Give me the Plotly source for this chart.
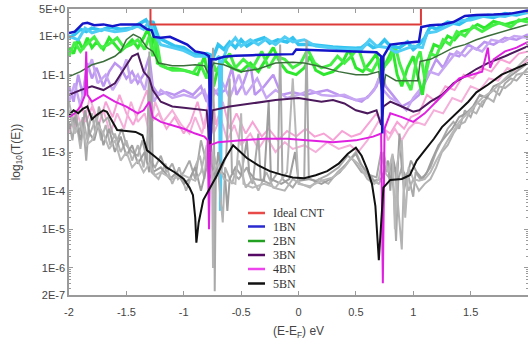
import plotly.graph_objects as go

# ---------------- data (energy E-EF in eV, transmission T(E)) ----------------
x_ideal = [-2.0, -1.29, -1.29, 1.067, 1.067, 2.0]
t_ideal = [6.0, 6.0, 2.0, 2.0, 6.0, 6.0]

x_1bn = [-2.0, -1.95, -1.88, -1.84, -1.78, -1.70, -1.62, -1.55, -1.45, -1.38, -1.32, -1.28, -1.26, -1.2, -1.12,
         -1.05, -0.97, -0.9, -0.82, -0.78, -0.77, -0.76, -0.72, -0.65, -0.55, -0.4, -0.2, -0.05, -0.02, 0.1, 0.3,
         0.5, 0.68, 0.72, 0.73, 0.74, 0.8, 0.9, 1.0, 1.05, 1.07, 1.15, 1.25, 1.35, 1.45, 1.55, 1.7, 1.85, 2.0]
t_1bn = [1.2, 1.3, 2.1, 2.2, 1.9, 2.0, 1.8, 2.0, 2.0, 2.0, 1.5, 1.4, 0.95, 0.9, 0.95,
         0.75, 0.6, 0.4, 0.36, 0.3, 0.002, 0.25, 0.25, 0.29, 0.31, 0.32, 0.33, 0.34, 0.45, 0.44, 0.42,
         0.41, 0.38, 0.3, 0.003, 0.3, 0.6, 0.65, 0.7, 0.72, 1.7, 1.9, 2.0, 2.3, 3.3, 3.5, 3.6, 3.8, 4.6]

x_1bn_a = [-2.0, -1.95, -1.9, -1.85, -1.8, -1.72, -1.65, -1.55, -1.45, -1.38, -1.33, -1.3, -1.27, -1.22, -1.15,
           -1.08, -1.0, -0.92, -0.85, -0.8, -0.74, -0.7, -0.65, -0.6, -0.55, -0.5, -0.45, -0.38, -0.3, -0.25,
           -0.18, -0.1, -0.05, 0.0, 0.1, 0.2, 0.3, 0.4, 0.5, 0.55, 0.6, 0.65, 0.7, 0.75, 0.8, 0.88, 0.95, 1.0,
           1.05, 1.1, 1.15, 1.2, 1.3, 1.4, 1.5, 1.6, 1.7, 1.8, 1.9, 2.0]
t_1bn_a = [0.9, 1.1, 1.5, 1.3, 1.6, 1.4, 1.7, 1.5, 1.6, 2.2, 2.6, 1.8, 2.4, 0.9, 0.7,
           0.55, 0.5, 0.35, 0.32, 0.35, 0.3, 0.6, 0.45, 0.7, 0.5, 0.8, 0.55, 0.75, 0.9, 0.65,
           0.8, 0.7, 0.9, 0.6, 0.6, 0.55, 0.52, 0.5, 0.48, 0.5, 0.65, 0.5, 0.55, 0.8, 0.55, 0.5, 0.7, 0.45,
           0.6, 0.9, 1.8, 1.5, 2.3, 2.0, 3.0, 3.3, 3.0, 3.8, 3.5, 4.2]

x_1bn_b = [-2.0, -1.92, -1.86, -1.8, -1.7, -1.6, -1.5, -1.4, -1.35, -1.3, -1.26, -1.2, -1.1, -1.0, -0.9,
           -0.8, -0.72, -0.69, -0.68, -0.67, -0.62, -0.55, -0.5, -0.42, -0.35, -0.28, -0.2, -0.12, -0.05, 0.05,
           0.15, 0.25, 0.35, 0.45, 0.55, 0.62, 0.68, 0.78, 0.85, 0.92, 1.0, 1.08, 1.12, 1.2, 1.3, 1.4, 1.5,
           1.65, 1.8, 1.9, 2.0]
t_1bn_b = [1.0, 0.8, 1.6, 1.2, 1.5, 1.3, 1.4, 1.8, 1.5, 2.4, 1.2, 0.6, 0.5, 0.42, 0.3,
           0.3, 0.25, 0.3, 3e-5, 0.2, 0.5, 0.9, 0.55, 0.8, 0.6, 0.85, 0.6, 0.95, 0.7, 0.8,
           0.55, 0.5, 0.47, 0.46, 0.45, 0.8, 0.55, 0.5, 0.38, 0.45, 0.55, 0.5, 1.2, 1.3, 1.8, 2.5, 2.6,
           3.5, 3.2, 3.9, 4.0]

x_2bn = [-2.0, -1.9, -1.8, -1.7, -1.6, -1.55, -1.5, -1.44, -1.38, -1.32, -1.27, -1.22, -1.1, -1.0, -0.9,
         -0.82, -0.78, -0.74, -0.65, -0.5, -0.35, -0.2, -0.05, 0.05, 0.2, 0.35, 0.5, 0.6, 0.7, 0.73, 0.76,
         0.85, 0.95, 1.04, 1.06, 1.15, 1.25, 1.35, 1.45, 1.55, 1.65, 1.75, 1.85, 2.0]
t_2bn = [0.09, 0.12, 0.18, 0.22, 0.3, 0.4, 0.8, 1.1, 0.9, 0.5, 0.4, 0.2, 0.17, 0.17, 0.18,
         0.17, 0.1, 0.2, 0.18, 0.12, 0.14, 0.2, 0.21, 0.2, 0.16, 0.12, 0.1, 0.1, 0.12, 0.03, 0.1,
         0.07, 0.07, 0.07, 0.22, 0.25, 0.35, 0.5, 0.6, 0.8, 1.0, 1.2, 1.5, 2.0]

x_2bn_a = [-2.0, -1.96, -1.92, -1.88, -1.84, -1.8, -1.76, -1.7, -1.65, -1.6, -1.55, -1.5, -1.45, -1.4, -1.35,
           -1.31, -1.28, -1.26, -1.23, -1.15, -1.05, -0.95, -0.88, -0.82, -0.79, -0.74, -0.7, -0.65, -0.58,
           -0.5, -0.42, -0.35, -0.28, -0.22, -0.16, -0.1, -0.02, 0.05, 0.1, 0.15, 0.22, 0.3, 0.38, 0.44, 0.5,
           0.56, 0.62, 0.68, 0.72, 0.76, 0.82, 0.86, 0.9, 0.95, 1.0, 1.04, 1.08, 1.12, 1.18, 1.24, 1.3, 1.36,
           1.42, 1.5, 1.56, 1.62, 1.7, 1.8, 1.9, 2.0]
t_2bn_a = [0.5, 0.35, 0.8, 0.45, 0.9, 0.5, 0.7, 0.45, 0.9, 0.6, 0.4, 0.55, 0.8, 0.5, 0.9,
           1.6, 0.5, 1.4, 0.2, 0.15, 0.14, 0.12, 0.1, 0.3, 0.1, 0.05, 0.15, 0.25, 0.15,
           0.12, 0.2, 0.12, 0.25, 0.5, 0.2, 0.12, 0.1, 0.15, 0.3, 0.13, 0.1, 0.12, 0.2, 0.45, 0.15,
           0.12, 0.2, 0.35, 0.1, 0.2, 0.45, 0.1, 0.05, 0.15, 0.3, 0.1, 0.03, 0.2, 0.6, 0.5, 1.0, 0.8,
           1.3, 1.5, 2.0, 1.6, 2.4, 2.0, 2.4, 2.8]

x_2bn_b = [-2.0, -1.95, -1.9, -1.85, -1.78, -1.72, -1.66, -1.58, -1.52, -1.46, -1.4, -1.34, -1.3, -1.27, -1.24,
           -1.2, -1.1, -1.0, -0.92, -0.86, -0.8, -0.76, -0.72, -0.66, -0.6, -0.55, -0.48, -0.4, -0.32, -0.26,
           -0.2, -0.12, -0.05, 0.02, 0.08, 0.14, 0.2, 0.28, 0.34, 0.4, 0.46, 0.52, 0.58, 0.64, 0.7, 0.74, 0.8,
           0.84, 0.88, 0.93, 0.98, 1.03, 1.06, 1.1, 1.15, 1.2, 1.26, 1.32, 1.38, 1.45, 1.52, 1.6, 1.68, 1.75,
           1.85, 1.92, 2.0]
t_2bn_b = [0.3, 0.7, 0.4, 0.6, 0.95, 0.5, 0.6, 0.9, 0.5, 0.6, 0.8, 0.45, 1.0, 0.3, 0.9,
           0.17, 0.13, 0.13, 0.11, 0.2, 0.08, 0.3, 0.12, 0.2, 0.35, 0.15, 0.25, 0.15, 0.4, 0.15,
           0.3, 0.25, 0.15, 0.2, 0.45, 0.2, 0.15, 0.18, 0.3, 0.2, 0.3, 0.5, 0.15, 0.12, 0.25, 0.15, 0.25,
           0.6, 0.2, 0.08, 0.04, 0.25, 0.4, 0.08, 0.35, 0.3, 0.8, 0.6, 1.3, 1.0, 1.8, 1.3, 1.8, 2.2,
           1.7, 2.6, 2.3]

x_3bn = [-2.0, -1.9, -1.8, -1.7, -1.6, -1.55, -1.45, -1.4, -1.35, -1.3, -1.27, -1.2, -1.1, -1.0, -0.9,
         -0.8, -0.77, -0.75, -0.6, -0.4, -0.2, 0.0, 0.1, 0.2, 0.3, 0.4, 0.5, 0.6, 0.68, 0.72, 0.74, 0.8,
         0.9, 1.0, 1.05, 1.15, 1.25, 1.35, 1.45, 1.55, 1.65, 1.8, 2.0]
t_3bn = [0.03, 0.04, 0.05, 0.04, 0.06, 0.1, 0.3, 0.35, 0.12, 0.08, 0.04, 0.02, 0.015, 0.014, 0.013,
         0.012, 0.001, 0.012, 0.015, 0.018, 0.022, 0.025, 0.022, 0.02, 0.022, 0.018, 0.012, 0.01, 0.012, 0.005,
         0.015, 0.02, 0.015, 0.011, 0.012, 0.02, 0.03, 0.06, 0.09, 0.14, 0.2, 0.3, 0.55]

x_3bn_a = [-2.0, -1.96, -1.92, -1.88, -1.84, -1.8, -1.76, -1.7, -1.65, -1.6, -1.55, -1.5, -1.45, -1.4, -1.35,
           -1.3, -1.27, -1.22, -1.15, -1.08, -1.0, -0.92, -0.85, -0.8, -0.76, -0.7, -0.64, -0.58, -0.54, -0.48,
           -0.42, -0.38, -0.3, -0.22, -0.15, -0.05, 0.05, 0.15, 0.25, 0.35, 0.45, 0.55, 0.62, 0.68, 0.72, 0.76,
           0.82, 0.9, 0.98, 1.05, 1.12, 1.2, 1.26, 1.32, 1.4, 1.48, 1.55, 1.62, 1.7, 1.8, 1.9, 2.0]
t_3bn_a = [0.05, 0.02, 0.1, 0.03, 0.2, 0.08, 0.15, 0.05, 0.12, 0.2, 0.15, 0.08, 0.12, 0.06, 0.1,
           0.3, 0.05, 0.03, 0.035, 0.03, 0.04, 0.03, 0.05, 0.02, 0.05, 0.03, 0.04, 0.15, 0.03, 0.06,
           0.2, 0.03, 0.05, 0.1, 0.03, 0.035, 0.03, 0.035, 0.04, 0.03, 0.025, 0.02, 0.03, 0.05, 0.12, 0.05,
           0.03, 0.015, 0.02, 0.03, 0.08, 0.25, 0.15, 0.35, 0.3, 0.6, 0.45, 0.7, 0.6, 0.9, 0.8, 1.1]

x_3bn_b = [-2.0, -1.95, -1.9, -1.85, -1.8, -1.75, -1.68, -1.62, -1.56, -1.5, -1.46, -1.4, -1.34, -1.3, -1.26,
           -1.2, -1.1, -1.0, -0.9, -0.82, -0.78, -0.74, -0.66, -0.6, -0.52, -0.46, -0.36, -0.28, -0.2, -0.1,
           0.0, 0.1, 0.2, 0.3, 0.4, 0.5, 0.6, 0.66, 0.7, 0.74, 0.8, 0.86, 0.94, 1.0, 1.08, 1.14, 1.22, 1.3,
           1.38, 1.45, 1.52, 1.6, 1.68, 1.78, 1.88, 2.0]
t_3bn_b = [0.02, 0.06, 0.015, 0.1, 0.25, 0.06, 0.1, 0.04, 0.08, 0.25, 0.06, 0.1, 0.04, 0.15, 0.02,
           0.04, 0.025, 0.03, 0.025, 0.04, 0.015, 0.03, 0.06, 0.025, 0.1, 0.03, 0.08, 0.025, 0.04, 0.025,
           0.03, 0.04, 0.03, 0.028, 0.03, 0.022, 0.025, 0.04, 0.08, 0.04, 0.025, 0.02, 0.012, 0.025, 0.05, 0.12,
           0.1, 0.2, 0.4, 0.3, 0.5, 0.4, 0.8, 0.7, 1.0, 0.9]

x_4bn = [-2.0, -1.95, -1.9, -1.86, -1.85, -1.84, -1.8, -1.7, -1.6, -1.5, -1.4, -1.35, -1.3, -1.27, -1.2,
         -1.1, -1.0, -0.9, -0.82, -0.79, -0.78, -0.77, -0.7, -0.5, -0.3, -0.1, 0.1, 0.3, 0.5, 0.65, 0.72,
         0.735, 0.75, 0.8, 0.9, 1.0, 1.1, 1.2, 1.3, 1.4, 1.6, 1.65, 1.67, 1.7, 1.8, 1.9, 2.0]
t_4bn = [0.008, 0.01, 0.015, 0.03, 0.4, 0.03, 0.02, 0.03, 0.02, 0.015, 0.01, 0.012, 0.02, 0.008, 0.006,
         0.005, 0.004, 0.003, 0.0025, 0.002, 1e-5, 0.0015, 0.0018, 0.002, 0.0022, 0.0022, 0.002, 0.0018, 0.002,
         0.0025, 0.003, 4e-7, 0.004, 0.01, 0.008, 0.006, 0.01, 0.02, 0.04, 0.08, 0.12, 0.5, 0.15, 0.25, 0.4,
         0.5, 0.7]

x_4bn_a = [-2.0, -1.95, -1.9, -1.85, -1.8, -1.74, -1.68, -1.62, -1.56, -1.5, -1.44, -1.38, -1.32, -1.28, -1.22,
           -1.15, -1.08, -1.0, -0.94, -0.88, -0.82, -0.76, -0.72, -0.66, -0.6, -0.54, -0.46, -0.4, -0.32,
           -0.26, -0.18, -0.1, -0.02, 0.06, 0.14, 0.22, 0.3, 0.38, 0.46, 0.54, 0.62, 0.68, 0.74, 0.8, 0.86,
           0.92, 0.98, 1.05, 1.12, 1.2, 1.28, 1.36, 1.44, 1.52, 1.6, 1.68, 1.76, 1.84, 1.92, 2.0]
t_4bn_a = [0.01, 0.004, 0.02, 0.006, 0.015, 0.005, 0.02, 0.008, 0.03, 0.01, 0.005, 0.015, 0.04, 0.006, 0.01,
           0.004, 0.008, 0.003, 0.006, 0.02, 0.004, 0.06, 0.005, 0.02, 0.004, 0.01, 0.003, 0.006, 0.0025,
           0.004, 0.002, 0.0035, 0.0025, 0.004, 0.0025, 0.003, 0.002, 0.0035, 0.0025, 0.003, 0.006, 0.01,
           0.004, 0.003, 0.006, 0.004, 0.008, 0.01, 0.03, 0.02, 0.05, 0.04, 0.1, 0.08, 0.15, 0.12, 0.25,
           0.2, 0.35, 0.4]

x_4bn_b = [-2.0, -1.94, -1.88, -1.82, -1.76, -1.7, -1.64, -1.58, -1.52, -1.46, -1.4, -1.34, -1.3, -1.25, -1.18,
           -1.1, -1.02, -0.95, -0.9, -0.84, -0.8, -0.74, -0.68, -0.62, -0.56, -0.5, -0.42, -0.35, -0.28, -0.2,
           -0.12, -0.05, 0.05, 0.15, 0.25, 0.35, 0.45, 0.52, 0.6, 0.66, 0.72, 0.78, 0.84, 0.9, 0.96, 1.02, 1.1,
           1.18, 1.26, 1.34, 1.42, 1.5, 1.58, 1.66, 1.74, 1.82, 1.9, 2.0]
t_4bn_b = [0.003, 0.012, 0.004, 0.025, 0.008, 0.012, 0.003, 0.01, 0.004, 0.02, 0.006, 0.01, 0.003, 0.02, 0.006,
           0.012, 0.005, 0.003, 0.008, 0.003, 0.01, 0.003, 0.008, 0.002, 0.005, 0.0015, 0.003, 0.0012, 0.0025,
           0.001, 0.0018, 0.0012, 0.0015, 0.001, 0.0018, 0.0012, 0.0015, 0.001, 0.002, 0.004, 0.008, 0.002,
           0.004, 0.002, 0.004, 0.006, 0.005, 0.012, 0.01, 0.025, 0.02, 0.05, 0.04, 0.08, 0.07, 0.15, 0.12, 0.25]

x_5bn = [-2.0, -1.96, -1.92, -1.88, -1.84, -1.8, -1.76, -1.7, -1.67, -1.62, -1.58, -1.5, -1.42, -1.36, -1.32,
         -1.26, -1.21, -1.15, -1.08, -1.0, -0.95, -0.92, -0.9, -0.89, -0.87, -0.83, -0.77, -0.71, -0.65, -0.6,
         -0.57, -0.52, -0.45, -0.35, -0.25, -0.15, -0.05, 0.05, 0.15, 0.25, 0.35, 0.43, 0.5, 0.55, 0.6, 0.64,
         0.67, 0.7, 0.72, 0.74, 0.8, 0.9, 0.97, 1.03, 1.1, 1.18, 1.25, 1.32, 1.4, 1.48, 1.55, 1.65, 1.77,
         1.88, 2.0]
t_5bn = [0.009, 0.012, 0.01, 0.013, 0.015, 0.007, 0.009, 0.012, 0.011, 0.006, 0.0037, 0.0035, 0.0033, 0.0027,
         0.0011, 0.0008, 0.0006, 0.0004, 0.0003, 0.0002, 0.00012, 7.7e-5, 2e-5, 4.5e-6, 1.5e-5, 5.7e-5, 1.2e-4,
         2.5e-4, 6e-4, 1.1e-3, 1.5e-3, 1.1e-3, 7e-4, 4.5e-4, 3.2e-4, 2.6e-4, 2.2e-4, 2.1e-4, 2.5e-4, 3.2e-4,
         5e-4, 9e-4, 1.3e-3, 8e-4, 3.5e-4, 1.5e-4, 4e-5, 1.6e-6, 2e-5, 1.2e-4, 1.9e-4, 2e-4, 2.5e-4, 6e-4,
         1.1e-3, 2.2e-3, 4.4e-3, 7e-3, 0.012, 0.02, 0.035, 0.055, 0.1, 0.14, 0.2]

x_5bn_a = [-2.0, -1.97, -1.94, -1.91, -1.88, -1.85, -1.83, -1.8, -1.77, -1.74, -1.7, -1.66, -1.62, -1.58, -1.54,
           -1.5, -1.45, -1.4, -1.36, -1.32, -1.3, -1.29, -1.25, -1.2, -1.15, -1.1, -1.05, -1.0, -0.95, -0.9,
           -0.85, -0.8, -0.76, -0.745, -0.735, -0.73, -0.72, -0.68, -0.63, -0.6, -0.58, -0.52, -0.45, -0.4,
           -0.35, -0.33, -0.25, -0.18, -0.16, -0.14, -0.05, 0.0, 0.05, 0.07, 0.09, 0.15, 0.25, 0.35, 0.43, 0.48,
           0.55, 0.62, 0.68, 0.72, 0.76, 0.8, 0.83, 0.85, 0.87, 0.9, 0.92, 0.95, 1.0, 1.02, 1.06, 1.1, 1.15,
           1.2, 1.25, 1.3, 1.35, 1.4, 1.45, 1.5, 1.55, 1.6, 1.65, 1.7, 1.75, 1.8, 1.85, 1.9, 2.0]
t_5bn_a = [0.006, 0.002, 0.01, 0.003, 0.008, 0.0006, 0.004, 0.01, 0.003, 0.015, 0.006, 0.008, 0.003, 0.002,
           0.004, 0.0015, 0.001, 0.0008, 0.002, 0.0006, 0.4, 0.0006, 0.0004, 0.0008, 0.0003, 0.0005, 0.0002,
           0.0003, 0.0006, 0.0002, 0.002, 0.0005, 0.01, 0.5, 0.001, 2.5e-7, 0.0004, 0.0003, 0.0008, 0.08,
           0.0003, 0.0002, 0.0004, 0.00015, 0.003, 0.0002, 0.00015, 0.0003, 0.6, 0.0002, 0.00012, 0.0002,
           0.0002, 0.8, 0.0002, 0.00018, 0.00025, 0.0004, 0.0008, 0.0006, 0.0003, 0.00025, 0.00022, 0.001,
           0.0003, 0.0005, 0.0001, 5e-6, 0.0002, 0.0004, 0.0001, 0.0003, 7e-5, 0.0003, 0.0002, 0.00025,
           0.0004, 0.001, 0.002, 0.004, 0.006, 0.004, 0.012, 0.008, 0.02, 0.015, 0.03, 0.04, 0.03, 0.06,
           0.08, 0.07, 0.15]

x_5bn_b = [-2.0, -1.96, -1.92, -1.9, -1.87, -1.84, -1.8, -1.76, -1.72, -1.68, -1.64, -1.6, -1.55, -1.5, -1.45,
           -1.4, -1.35, -1.31, -1.28, -1.22, -1.16, -1.1, -1.04, -0.98, -0.92, -0.86, -0.82, -0.78, -0.755,
           -0.745, -0.735, -0.7, -0.66, -0.64, -0.58, -0.52, -0.46, -0.4, -0.35, -0.28, -0.22, -0.12, -0.05,
           0.02, 0.1, 0.18, 0.26, 0.34, 0.42, 0.5, 0.56, 0.62, 0.7, 0.75, 0.8, 0.84, 0.9, 0.92, 0.96, 1.0,
           1.05, 1.1, 1.15, 1.2, 1.25, 1.3, 1.35, 1.4, 1.45, 1.5, 1.55, 1.6, 1.65, 1.7, 1.75, 1.8, 1.85, 1.9,
           2.0]
t_5bn_b = [0.02, 0.005, 0.003, 0.0012, 0.006, 0.002, 0.004, 0.008, 0.002, 0.005, 0.0015, 0.003, 0.001, 0.002,
           0.0006, 0.0015, 0.0004, 0.003, 0.0003, 0.0002, 0.0005, 0.00015, 0.0004, 0.0001, 0.0003, 0.0008,
           0.0002, 0.005, 0.001, 1e-6, 0.0008, 0.0003, 1.5e-5, 0.0004, 0.00015, 0.0006, 0.00012, 0.0002,
           0.0001, 0.0003, 0.00012, 0.0001, 0.0002, 0.00015, 0.00012, 0.0002, 0.00015, 0.0003, 0.0005, 0.001,
           0.0004, 0.0002, 0.00015, 0.0003, 0.0002, 0.0004, 3e-6, 0.0003, 0.0001, 0.0002, 0.0001, 0.00015,
           0.0002, 0.0004, 0.001, 0.0015, 0.003, 0.005, 0.006, 0.012, 0.01, 0.02, 0.025, 0.02, 0.05, 0.045,
           0.06, 0.1, 0.12]

x_5bn_c = [-2.0, -1.95, -1.9, -1.86, -1.82, -1.78, -1.74, -1.7, -1.65, -1.6, -1.55, -1.5, -1.45, -1.4, -1.34,
           -1.3, -1.28, -1.27, -1.2, -1.12, -1.06, -1.0, -0.95, -0.9, -0.85, -0.8, -0.77, -0.76, -0.72, -0.7,
           -0.67, -0.64, -0.62, -0.6, -0.55, -0.5, -0.45, -0.43, -0.38, -0.3, -0.26, -0.24, -0.15, -0.08, -0.03,
           0.0, 0.1, 0.2, 0.28, 0.36, 0.44, 0.5, 0.54, 0.6, 0.66, 0.72, 0.78, 0.8, 0.82, 0.86, 0.88, 0.9, 0.94,
           0.98, 1.03, 1.08, 1.12, 1.16, 1.22, 1.28, 1.34, 1.4, 1.46, 1.52, 1.58, 1.64, 1.7, 1.76, 1.82, 1.9,
           2.0]
t_5bn_c = [0.004, 0.008, 0.002, 0.012, 0.003, 0.002, 0.006, 0.0015, 0.004, 0.001, 0.0025, 0.0008, 0.0015,
           0.0005, 0.001, 0.0003, 0.05, 0.0003, 0.0004, 0.0002, 0.0003, 0.00015, 0.0002, 0.0004, 0.0001,
           0.0004, 0.02, 0.0005, 0.0002, 0.001, 0.0003, 0.00025, 3e-5, 0.0002, 0.0004, 0.00025, 0.002, 0.0003,
           0.0002, 0.00018, 0.02, 0.0002, 0.00015, 0.0002, 0.001, 0.00018, 0.0002, 0.00015, 0.0002, 0.0003,
           0.0006, 0.0009, 0.0005, 0.0003, 0.00018, 0.0002, 0.0006, 0.0001, 0.0008, 0.0002, 0.003, 0.0004,
           0.0002, 0.0006, 0.0003, 0.0002, 0.0003, 0.0006, 0.0015, 0.0025, 0.004, 0.008, 0.01, 0.015, 0.03,
           0.025, 0.05, 0.06, 0.08, 0.12, 0.2]

x_5bn_d = [-2.0, -1.95, -1.9, -1.85, -1.8, -1.75, -1.7, -1.65, -1.6, -1.55, -1.5, -1.45, -1.4, -1.35, -1.3,
           -1.25, -1.2, -1.1, -1.0, -0.9, -0.85, -0.8, -0.78, -0.7, -0.65, -0.55, -0.5, -0.48, -0.4, -0.3,
           -0.2, -0.1, -0.05, 0.0, 0.1, 0.2, 0.3, 0.4, 0.46, 0.52, 0.6, 0.66, 0.7, 0.74, 0.78, 0.82, 0.84,
           0.86, 0.9, 0.93, 0.96, 1.0, 1.05, 1.1, 1.15, 1.2, 1.3, 1.4, 1.5, 1.6, 1.7, 1.8, 1.9, 2.0]
t_5bn_d = [0.012, 0.003, 0.006, 0.0015, 0.002, 0.005, 0.003, 0.0012, 0.002, 0.0006, 0.001, 0.0004, 0.0006,
           0.0003, 0.0005, 0.00025, 0.0003, 0.0002, 0.00025, 0.00018, 0.0003, 0.0015, 0.0002, 0.0005, 0.0002,
           0.00015, 0.01, 0.00015, 0.00012, 0.00015, 0.00012, 0.0003, 0.08, 0.00015, 0.00013, 0.00018, 0.00022,
           0.0004, 0.0007, 0.0005, 0.0002, 0.00015, 0.0002, 0.001, 0.0003, 0.0009, 1e-5, 0.0005, 0.002, 2e-5,
           0.0004, 0.0002, 0.00018, 0.0002, 0.0003, 0.0006, 0.002, 0.006, 0.012, 0.025, 0.04, 0.08, 0.15, 0.3]

x_ticks = [-2, -1.5, -1, -0.5, 0, 0.5, 1, 1.5, 2]
x_ticktext = ["-2", "-1.5", "-1", "-0.5", "0", "0.5", "1", "1.5", "2"]
y_ticks = [5, 1, 1e-1, 1e-2, 1e-3, 1e-4, 1e-5, 1e-6, 2e-7]
y_ticktext = ["5E+0", "1E+0", "1E-1", "1E-2", "1E-3", "1E-4", "1E-5", "1E-6", "2E-7"]

legend_names = ["Ideal CNT", "1BN", "2BN", "3BN", "4BN", "5BN"]
legend_colors = ["#e84a4a", "#2a2ad0", "#22a022", "#550a66", "#ee44ee", "#111111"]

# ---------------- figure ----------------
fig = go.Figure()

def add(x, y, color, width, name=None):
    fig.add_trace(go.Scatter(x=x, y=y, mode="lines", name=name, showlegend=False,
                             line=dict(color=color, width=width), hoverinfo="skip"))

# light variants (background)
add(x_4bn_a, t_4bn_a, "#f7a3d6", 2, "4BN")
add(x_4bn_b, t_4bn_b, "#f5b0da", 2, "4BN")
add(x_3bn_a, t_3bn_a, "#bb95f0", 2.5, "3BN")
add(x_3bn_b, t_3bn_b, "#c7a6f3", 2.5, "3BN")
add(x_2bn_a, t_2bn_a, "#2ee82e", 3, "2BN")
add(x_2bn_b, t_2bn_b, "#45ef45", 3, "2BN")
add(x_1bn_a, t_1bn_a, "#33c3f0", 3.5, "1BN")
add(x_1bn_b, t_1bn_b, "#4fcdf5", 3, "1BN")
add(x_5bn_a, t_5bn_a, "#a9a9a9", 2, "5BN")
add(x_5bn_b, t_5bn_b, "#b3b3b3", 2, "5BN")
add(x_5bn_c, t_5bn_c, "#9e9e9e", 2, "5BN")
add(x_5bn_d, t_5bn_d, "#b8b8b8", 2, "5BN")

# main curves
add(x_2bn, t_2bn, "#3b6e3b", 1.5, "2BN")
add(x_3bn, t_3bn, "#4c1a5c", 2, "3BN")
add(x_4bn, t_4bn, "#e020e0", 2, "4BN")
add(x_5bn, t_5bn, "#111111", 2, "5BN")
add(x_1bn, t_1bn, "#1414c8", 2.5, "1BN")
add(x_ideal, t_ideal, "#dd3a3a", 2, "Ideal CNT")

# plot area in pixels: left 69, right 528, top 9, bottom 295
PL, PW, PT, PH = 69, 459, 9, 286
leg_y = [213, 226.5, 241, 255, 269, 283.5]
shapes, annos = [], []
for nm, col, yy in zip(legend_names, legend_colors, leg_y):
    yp = (PT + PH - yy) / PH
    shapes.append(dict(type="line", xref="paper", yref="paper",
                       x0=(248 - PL) / PW, x1=(265 - PL) / PW, y0=yp, y1=yp,
                       line=dict(color=col, width=2.5)))
    annos.append(dict(text=nm, xref="paper", yref="paper", x=(271 - PL) / PW, y=yp,
                      xanchor="left", yanchor="middle", showarrow=False,
                      font=dict(family="Liberation Serif, Times New Roman", size=12, color="#333333")))

axis_common = dict(showline=True, linecolor="#9a9a9a", linewidth=1.5, mirror="ticks",
                   ticks="inside", ticklen=4, tickcolor="#9a9a9a", showgrid=False, zeroline=False,
                   automargin=False,
                   tickfont=dict(family="Liberation Sans, Arial", size=11, color="#444444"))

fig.update_layout(
    width=528, height=349,
    margin=dict(l=PL, r=0, t=PT, b=349 - PT - PH),
    paper_bgcolor="white", plot_bgcolor="white",
    xaxis=dict(range=[-2, 2], tickvals=x_ticks, ticktext=x_ticktext, ticklabelstandoff=6,
               title=dict(text="(E-E<sub>F</sub>) eV", standoff=10,
                          font=dict(family="Liberation Sans, Arial", size=12, color="#444444")),
               **axis_common),
    yaxis=dict(type="log", range=[-6.699, 0.699], tickvals=y_ticks, ticktext=y_ticktext,
               minor=dict(ticks="inside", ticklen=2, tickcolor="#9a9a9a", dtick="D1"),
               title=dict(text="log<sub>10</sub>(T(E))", standoff=16,
                          font=dict(family="Liberation Sans, Arial", size=12, color="#444444")),
               **axis_common),
    shapes=shapes, annotations=annos,
    showlegend=False,
)

fig.write_html("out.html", config={"displayModeBar": False},
               post_script="document.body.style.margin='0px';document.body.style.overflow='hidden';")
